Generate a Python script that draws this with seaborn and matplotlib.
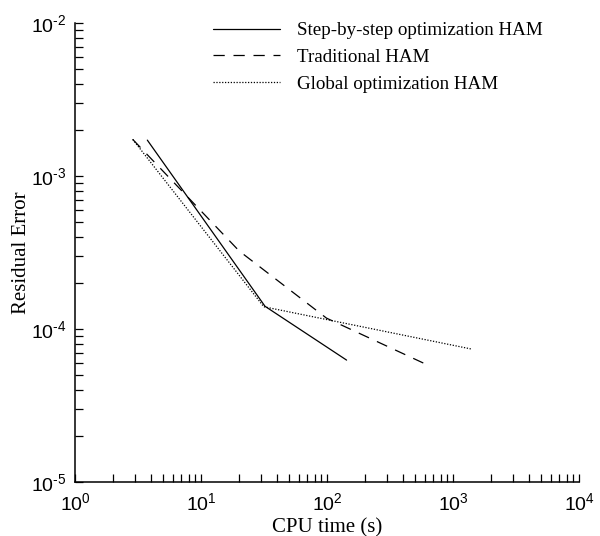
import numpy as np
import pandas as pd
import matplotlib
matplotlib.use("Agg")
import matplotlib.pyplot as plt
import seaborn as sns
from matplotlib.ticker import LogLocator, FuncFormatter, NullFormatter

sns.set_theme(style="white")
plt.rcParams['font.family'] = ['Liberation Sans', 'DejaVu Sans']
plt.rcParams['mathtext.fontset'] = 'custom'
plt.rcParams['mathtext.rm'] = 'Liberation Sans'
plt.rcParams['mathtext.it'] = 'Liberation Sans:italic'
plt.rcParams['axes.unicode_minus'] = False

methods = ["Step-by-step optimization HAM", "Traditional HAM", "Global optimization HAM"]

step_time = [3.75, 32.2, 143]
step_err = [1.72e-3, 1.41e-4, 6.27e-5]

trad_time = [2.87, 20.1, 99, 581]
trad_err = [1.74e-3, 3.24e-4, 1.18e-4, 6.0e-5]

glob_time = [2.87, 31.5, 1407]
glob_err = [1.74e-3, 1.40e-4, 7.4e-5]

x_label = "CPU time (s)"
y_label = "Residual Error"

df = pd.concat([
    pd.DataFrame({"t": step_time, "e": step_err, "Method": methods[0]}),
    pd.DataFrame({"t": trad_time, "e": trad_err, "Method": methods[1]}),
    pd.DataFrame({"t": glob_time, "e": glob_err, "Method": methods[2]}),
], ignore_index=True)

fig = plt.figure(figsize=(6.0, 5.36), dpi=100)
ax = fig.add_axes([0.125, 0.1007, 0.84, 0.856])

dash_map = {methods[0]: "", methods[1]: (9, 7), methods[2]: (1, 1.3)}
pal = {m: "black" for m in methods}
sns.lineplot(data=df, x="t", y="e", hue="Method", style="Method",
             dashes=dash_map, palette=pal, sort=False, estimator=None,
             linewidth=0.9, ax=ax, legend=False)

ax.set_xscale("log")
ax.set_yscale("log")
ax.set_xlim(1, 1e4)
ax.set_ylim(1e-5, 1e-2)

for s in ["top", "right"]:
    ax.spines[s].set_visible(False)
for s in ["left", "bottom"]:
    ax.spines[s].set_color("black")
    ax.spines[s].set_linewidth(1.1)

def fmt(v, pos):
    e = int(round(np.log10(v)))
    if e < 0:
        return r"$\mathrm{10^{\text{-}%d}}$" % (-e)
    return r"$\mathrm{10^{%d}}$" % e

for axis in (ax.xaxis, ax.yaxis):
    axis.set_major_locator(LogLocator(base=10, numticks=10))
    axis.set_minor_locator(LogLocator(base=10, subs=np.arange(2, 10), numticks=20))
    axis.set_major_formatter(FuncFormatter(fmt))
    axis.set_minor_formatter(NullFormatter())

ax.tick_params(which="both", direction="in", length=6, width=0.9, color="black",
               bottom=True, left=True, top=False, right=False,
               labelsize=14, labelcolor="black")
ax.tick_params(axis="x", which="major", pad=7)
ax.tick_params(axis="y", which="major", pad=6)

ax.set_xlabel(x_label, fontsize=15, family="Liberation Serif", color="black", labelpad=3)
ax.set_ylabel(y_label, fontsize=15, family="Liberation Serif", color="black")
ax.yaxis.set_label_coords(-0.087, 0.5)

handles = ax.get_lines()[:3]
leg = ax.legend(handles, methods, loc="upper left", bbox_to_anchor=(0.24, 1.04),
                frameon=False, handlelength=3.5, handletextpad=0.9, labelspacing=0.5,
                prop={"family": "Liberation Serif", "size": 13.7})
for t in leg.get_texts():
    t.set_color("black")

fig.savefig("out.png", dpi=100, facecolor="white")
